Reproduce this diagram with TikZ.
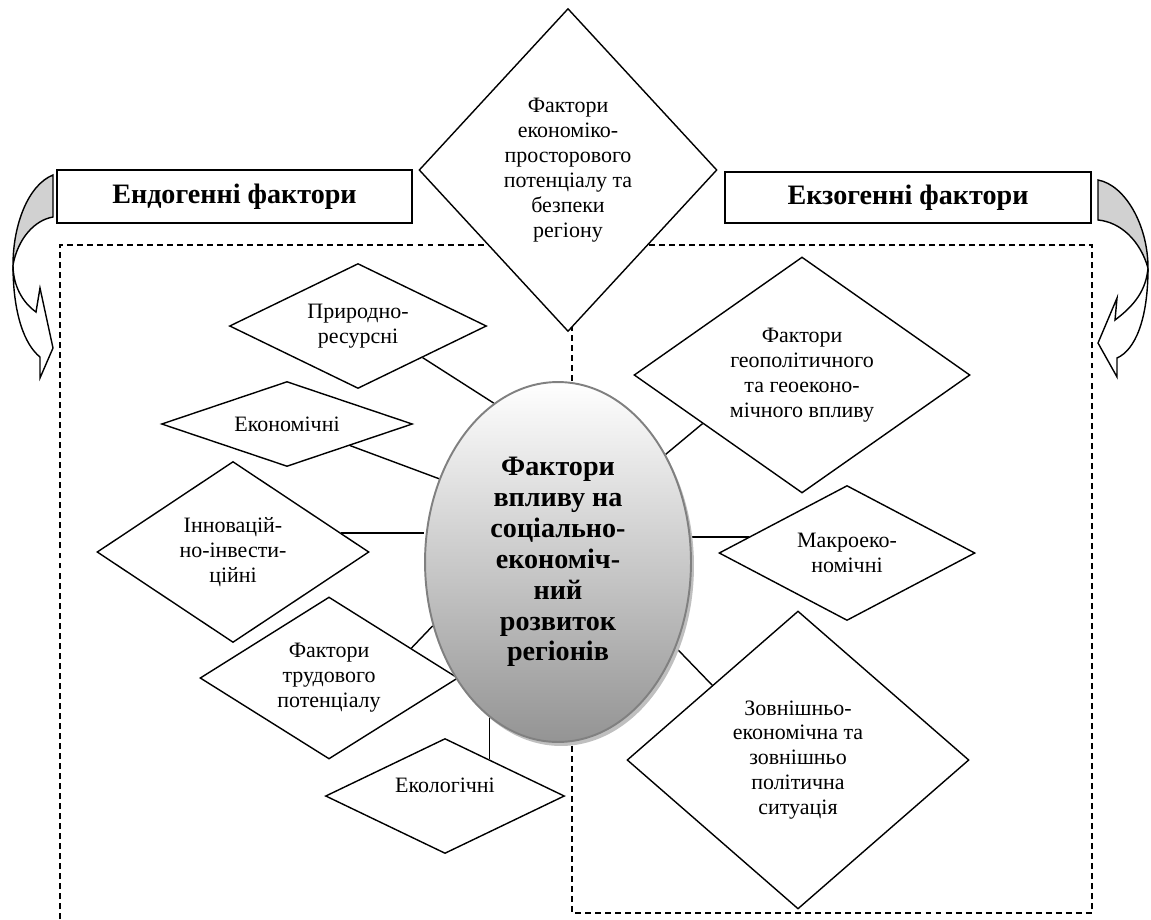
\documentclass[tikz,border=0pt]{standalone}
\usepackage{fontspec}
\setmainfont{Liberation Serif}
\usetikzlibrary{shapes.geometric,shadows,backgrounds,calc}

\tikzset{
	factor/.style={diamond, draw, fill=white, inner sep=0pt, align=center, line width=0.8pt, font=\fontsize{12.5}{14.2}\selectfont},
	header/.style={rectangle, draw, fill=white, inner sep=0pt, line width=0.8pt, font=\fontsize{16}{18}\selectfont\bfseries},
	core/.style={ellipse, draw=black!50, line width=1.1pt, top color=white, bottom color=black!42, align=center, inner sep=0pt, font=\fontsize{16}{17.6}\selectfont\bfseries, drop shadow={shadow xshift=0.06cm, shadow yshift=-0.08cm, fill=black!25, opacity=1}},
	zone/.style={line width=0.7pt, dash pattern=on 3.4pt off 2.3pt},
	link/.style={line width=0.8pt},
	backband/.style={draw, fill=black!18, line width=0.8pt},
	frontband/.style={draw, fill=white, line width=0.8pt}
}

\begin{document}
\begin{tikzpicture}[x=0.02cm, y=-0.02cm]
			\useasboundingbox (0,0) rectangle (1151,919);
			% dashed zones
			\draw [zone] (60,919) -- (60,245) -- (572,245);
			\draw [zone] (572,245) rectangle (1092,913);
			% turning arrows
			\draw [backband] (53,175) .. controls (28,185) and (13,225) .. (13,265) .. controls (18,238) and (35,220) .. (53,217) -- cycle;
			\draw [frontband] (13,265) .. controls (13,315) and (25,345) .. (40,357) -- (40,378) -- (53,348) -- (40,288) -- (36,312) .. controls (22,302) and (13,285) .. (13,265) -- cycle;
			\draw [backband] (1098,180) .. controls (1125,185) and (1148,225) .. (1148,268) .. controls (1140,240) and (1120,222) .. (1098,220) -- cycle;
			\draw [frontband] (1148,268) .. controls (1148,320) and (1135,350) .. (1117,358) -- (1117,377) -- (1098,343) -- (1117,298) -- (1115,320) .. controls (1135,305) and (1146,290) .. (1148,268) -- cycle;
			% headers
			\draw (234.5,196.5) node [header, minimum width=7.1cm, minimum height=1.06cm] (endo) {Ендогенні фактори};
			\draw (908,197.5) node [header, minimum width=7.32cm, minimum height=1.02cm] (exo) {Екзогенні фактори};
			% factors
			\draw (568,170) node [factor, aspect=0.92, minimum width=5.96cm, minimum height=6.46cm] (space) {Фактори\\економіко-\\просторового\\потенціалу та\\безпеки\\регіону};
			\draw (358,326) node [factor, aspect=2.06, minimum width=5.14cm, minimum height=2.5cm] (prir) {Природно-\\ресурсні};
			\draw (287,424) node [factor, aspect=2.95, minimum width=5.02cm, minimum height=1.7cm] (ekon) {Економічні};
			\draw (233,552) node [factor, aspect=1.5, minimum width=5.44cm, minimum height=3.62cm] (innov) {Інновацій-\\но-інвести-\\ційні};
			\draw (329,678) node [factor, aspect=1.59, minimum width=5.16cm, minimum height=3.24cm] (trud) {Фактори\\трудового\\потенціалу};
			\draw (445,796) node [factor, aspect=2.08, minimum width=4.78cm, minimum height=2.3cm, text depth=0.45cm] (ekol) {Екологічні};
			\draw (802,375) node [factor, aspect=1.42, minimum width=6.72cm, minimum height=4.72cm] (geo) {Фактори\\геополітичного\\та геоеконо-\\мічного впливу};
			\draw (847,553) node [factor, aspect=1.9, minimum width=5.12cm, minimum height=2.7cm] (makro) {Макроеко-\\номічні};
			\draw (798,760) node [factor, aspect=1.15, minimum width=6.84cm, minimum height=5.96cm] (zovn) {Зовнішньо-\\економічна та\\зовнішньо\\політична\\ситуація};
			% centre
			\draw (558,562) node [core, minimum width=5.32cm, minimum height=7.2cm] (ell) {Фактори\\впливу на\\соціально-\\економіч-\\ний\\розвиток\\регіонів};
			% links
			\path ($(innov.north east)!0.58!(innov.east)$) coordinate (innovc);
			\path ($(trud.north east)!0.27!(trud.east)$) coordinate (trudc);
			\path ($(ekol.north)!0.74!(ekol.north east)$) coordinate (ekolc);
			\path ($(geo.west)!0.82!(geo.south west)$) coordinate (geoc);
			\path ($(makro.west)!0.47!(makro.north west)$) coordinate (makroc);
			\begin{pgfonlayer}{background}
				\path (prir.south east) edge [link] (ell.112);
				\path (ekon.south east) edge [link] (ell.145);
				\path (innovc) edge [link] (innovc -| ell.west);
				\path (trudc) edge [link] (ell.207);
				\path (ekolc) edge [link] (ekolc |- ell.246);
				\path (geoc) edge [link] (ell.45);
				\path (makroc) edge [link] (makroc -| ell.east);
				\path (zovn.north west) edge [link] (ell.-36);
			\end{pgfonlayer}
		\end{tikzpicture}
\end{document}
